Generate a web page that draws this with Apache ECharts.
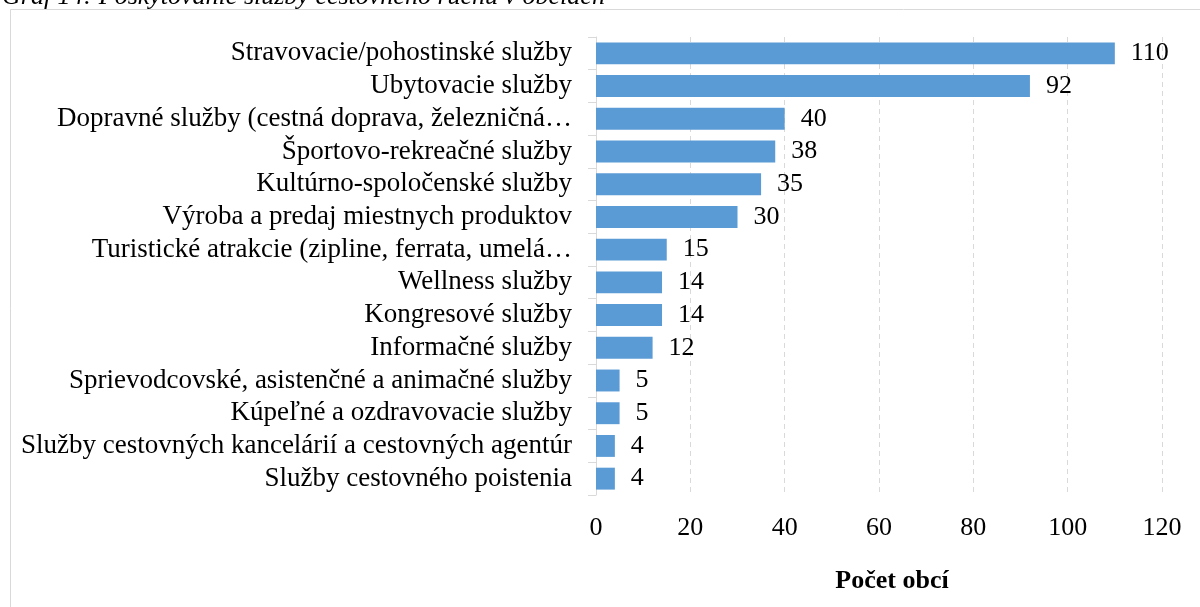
<!DOCTYPE html>
<html>
<head>
<meta charset="utf-8">
<script src="https://cdn.jsdelivr.net/npm/echarts@6/dist/echarts.min.js"></script>
<style>
  html, body { margin: 0; padding: 0; background: #fff; }
  #chart { width: 1200px; height: 607px; }
</style>
</head>
<body>
<div id="chart"></div>
<script>
// categories top -> bottom as in the picture
const categories = [
  'Stravovacie/pohostinské služby',
  'Ubytovacie služby',
  'Dopravné služby (cestná doprava, železničná…',
  'Športovo-rekreačné služby',
  'Kultúrno-spoločenské služby',
  'Výroba a predaj miestnych produktov',
  'Turistické atrakcie (zipline, ferrata, umelá…',
  'Wellness služby',
  'Kongresové služby',
  'Informačné služby',
  'Sprievodcovské, asistenčné a animačné služby',
  'Kúpeľné a ozdravovacie služby',
  'Služby cestovných kancelárií a cestovných agentúr',
  'Služby cestovného poistenia'
]
const values = [110, 92, 40, 38, 35, 30, 15, 14, 14, 12, 5, 5, 4, 4]
const xTicks = [0, 20, 40, 60, 80, 100, 120]
const titleText = 'Graf 14: Poskytovanie služby cestovného ruchu v obciach'
const axisTitle = 'Počet obcí'

const serif = '"Liberation Serif", "DejaVu Serif", serif'
const FS = 26
const chart = echarts.init(document.getElementById('chart'), null, { renderer: 'canvas' })

chart.setOption({
  backgroundColor: '#fff',
  animation: false,
  textStyle: { fontFamily: serif },
  grid: { left: 596, right: 38, top: 37, bottom: 112, containLabel: false },
  xAxis: {
    type: 'value',
    min: xTicks[0], max: xTicks[xTicks.length - 1], interval: 20,
    name: axisTitle, nameLocation: 'middle', nameGap: 73,
    nameTextStyle: { fontFamily: serif, fontSize: FS, fontWeight: 'bold', color: '#000', padding: [0, 0, 0, 26] },
    axisLine: { show: false },
    axisTick: { show: false },
    axisLabel: { color: '#000', fontSize: FS, fontFamily: serif, margin: 20 },
    splitLine: { show: true, lineStyle: { color: '#d9d9d9', type: [5, 4], width: 1 } }
  },
  yAxis: {
    type: 'category',
    data: categories,
    inverse: true,
    axisLine: { show: true, lineStyle: { color: '#d9d9d9', width: 1 } },
    axisTick: { show: true, length: 8, lineStyle: { color: '#d9d9d9' } },
    axisLabel: { interval: 0, color: '#000', fontSize: 27, fontFamily: serif, margin: 24 }
  },
  series: [{
    type: 'bar',
    data: values,
    barCategoryGap: '33%',
    itemStyle: { color: '#5b9bd5' },
    label: {
      show: true, position: 'right', distance: 16,
      color: '#000', fontSize: FS, fontFamily: serif
    }
  }],
  graphic: [
    {
      type: 'rect', silent: true,
      shape: { x: 10.5, y: 9.5, width: 1250, height: 700 },
      style: { fill: null, stroke: '#d9d9d9', lineWidth: 1 }
    },
    {
      type: 'text', left: 2, top: -16, silent: true,
      style: { text: titleText, fontSize: FS, fontFamily: serif, fontStyle: 'italic', fill: '#000' }
    }
  ]
})
</script>
</body>
</html>
